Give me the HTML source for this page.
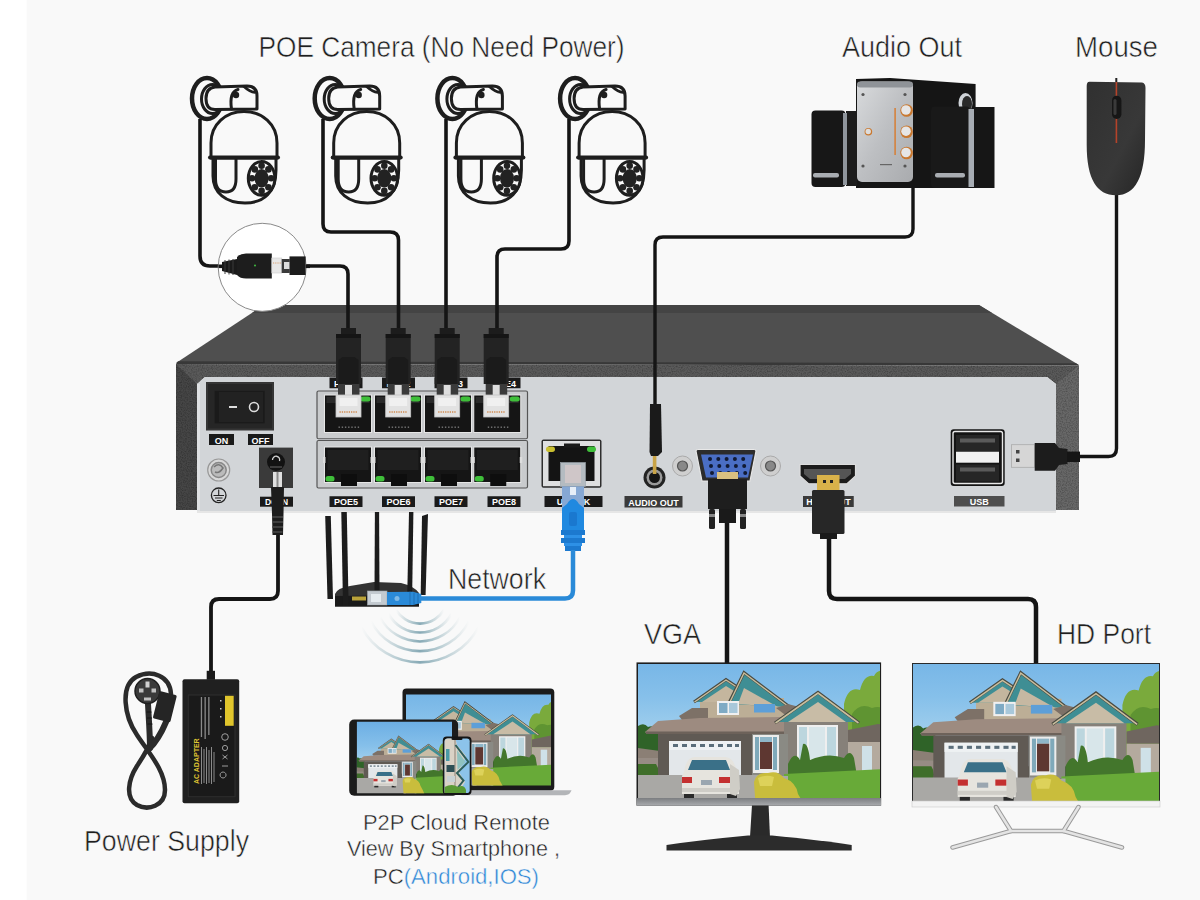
<!DOCTYPE html>
<html>
<head>
<meta charset="utf-8">
<style>
html,body{margin:0;padding:0;width:1200px;height:900px;overflow:hidden;background:#f9f9f9;}
svg{position:absolute;left:0;top:0;display:block;}
text{font-family:"Liberation Sans",sans-serif;}
</style>
</head>
<body>
<svg width="1200" height="900" viewBox="0 0 1200 900">
<defs>
  <linearGradient id="sky" x1="0" y1="0" x2="0" y2="1">
    <stop offset="0" stop-color="#6db0e6"/>
    <stop offset="1" stop-color="#b4dcf2"/>
  </linearGradient>
</defs>

<defs>
  <linearGradient id="skyg" x1="0" y1="0" x2="0" y2="1">
    <stop offset="0" stop-color="#62a8e2"/><stop offset="0.55" stop-color="#86c0ea"/><stop offset="1" stop-color="#b8dcef"/>
  </linearGradient>
  <linearGradient id="chin1" x1="0" y1="0" x2="0" y2="1">
    <stop offset="0" stop-color="#7b7d80"/><stop offset="1" stop-color="#a9abae"/>
  </linearGradient>
  <g id="scene">
    <rect x="-40" y="-50" width="320" height="150" fill="url(#skyg)"/>
    <!-- left trees -->
    <path d="M-40 60 L0 62 Q6 58 10 63 Q16 60 22 68 L22 100 L-40 100 Z" fill="#2f6328"/>
    <!-- right tree -->
    <path d="M206 40 Q210 22 222 26 Q226 10 236 12 Q240 4 250 8 L270 8 L270 100 L210 100 Q202 80 206 60 Z" fill="#7aaa3c"/>
    <path d="M214 50 Q222 38 234 44 Q246 40 250 52 L250 90 L214 90 Z" fill="#5f9432"/>
    <!-- right neighbour -->
    <path d="M210 66 L240 60 L270 62 L270 78 L210 78 Z" fill="#6f665f"/>
    <rect x="210" y="78" width="60" height="32" fill="#b4aa9e"/>
    <rect x="224" y="82" width="10" height="26" fill="#cfe1e8"/>
    <!-- left neighbour -->
    <path d="M-40 88 L0 84 L22 87 L22 94 L-40 96 Z" fill="#8b7f75"/>
    <rect x="-40" y="94" width="62" height="18" fill="#978c84"/>
    <path d="M-40 100 L18 100 Q22 106 20 112 L-40 112 Z" fill="#3f6e2a"/>
    <!-- upper wall & gables -->
    <rect x="62" y="34" width="84" height="24" fill="#bcae96"/>
    <path d="M41 52 L54 44 L70 44 L70 55 L44 56 Z" fill="#7d7167"/>
    <path d="M58 38 L88 17 L120 38 Z" fill="#3f8e94"/>
    <path d="M64 38 L88 22 L114 38 Z" fill="#c4b69e"/>
    <path d="M56 38 L88 15.5 L122 38" fill="none" stroke="#4a4a40" stroke-width="3"/><path d="M56.5 38 L88 16 L121.5 38" fill="none" stroke="#c9bf9f" stroke-width="1.4"/>
    <path d="M92 40 L106 10 L151 43 Z" fill="#3f8e94"/>
    <path d="M100 40 L106 24 L140 43 Z" fill="#c6b8a2"/>
    <path d="M90 41 L106 8.5 L153 44" fill="none" stroke="#4a4a40" stroke-width="3"/><path d="M90.5 41 L106 9 L152.5 44" fill="none" stroke="#c9bf9f" stroke-width="1.4"/>
    <rect x="79" y="37" width="22" height="14" fill="#f0f0f0"/>
    <rect x="81" y="39" width="8.5" height="10" fill="#7eaac4"/><rect x="91" y="39" width="8.5" height="10" fill="#a8c8da"/>
    <rect x="116" y="40" width="21" height="8.5" fill="#5d9fd8"/>
    <path d="M138 44 L150 40 L165 44 L150 53 Z" fill="#7d7167"/>
    <!-- lower roof -->
    <path d="M7 68 L20 57 L62 54 L146 53 L149 63 L147 70 L9 70 Z" fill="#9d8b80"/>
    <rect x="8" y="67.5" width="140" height="2.5" fill="#6d625a"/>
    <!-- right wing -->
    <rect x="146" y="55" width="64" height="45" fill="#868079"/>
    <path d="M139 58 L180 30 L219 58 Z" fill="#3f8e94"/>
    <path d="M150 58 L180 38 L208 58 Z" fill="#c8bca6"/>
    <path d="M137 59 L180 28.5 L221 59" fill="none" stroke="#4a4a40" stroke-width="3.2"/><path d="M137.5 59 L180 29 L220.5 59" fill="none" stroke="#c9bf9f" stroke-width="1.6"/>
    <rect x="159" y="61" width="41" height="36" fill="#efefef"/>
    <rect x="161" y="63" width="8" height="32" fill="#bcd6de"/>
    <rect x="171" y="63" width="16" height="32" fill="#d8e6ea"/>
    <rect x="189" y="63" width="9" height="32" fill="#bcd6de"/>
    <!-- lower walls -->
    <rect x="20" y="70" width="94" height="43" fill="#605a54"/>
    <rect x="114" y="70" width="36" height="42" fill="#8a8a84"/>
    <rect x="31" y="77" width="72" height="36" fill="#e3e7ea"/>
    <rect x="31" y="77" width="72" height="9" fill="#eef1f3"/>
    <g fill="#5a6d7a">
      <rect x="35" y="80" width="5" height="3"/><rect x="44" y="80" width="5" height="3"/><rect x="53" y="80" width="5" height="3"/><rect x="62" y="80" width="5" height="3"/>
      <rect x="71" y="80" width="5" height="3"/><rect x="80" y="80" width="5" height="3"/><rect x="89" y="80" width="5" height="3"/><rect x="97" y="80" width="4" height="3"/>
    </g>
    <rect x="115" y="71" width="26" height="38" fill="#ececec"/>
    <rect x="117" y="73" width="4" height="33" fill="#7fa9ba"/>
    <rect x="135" y="73" width="4" height="33" fill="#7fa9ba"/>
    <rect x="122" y="73" width="12" height="5" fill="#8fb6c8"/>
    <rect x="122" y="78" width="12" height="27" fill="#5e3731"/>
    <!-- driveway -->
    <path d="M-40 111 L124 111 L124 180 L-40 180 Z" fill="#a9a8a5"/>
    <!-- green bushes -->
    <path d="M150 100 Q156 86 162 96 L165 80 Q170 78 172 96 Q190 88 206 94 Q212 84 216 94 L220 118 L150 118 Z" fill="#43762c"/>
    <!-- lawn -->
    <path d="M146 110 L270 104 L270 180 L146 180 Z" fill="#68aa38"/>
    <rect x="118" y="112" width="32" height="68" fill="#a9a8a5"/>
    <!-- yellow bushes -->
    <path d="M116 118 Q118 108 130 109 Q140 106 146 114 Q158 118 160 130 Q166 140 170 150 Q176 165 178 180 L122 180 Q118 150 116 118 Z" fill="#c9bd3c"/>
    <path d="M120 114 Q128 110 136 113 L134 122 L122 122 Z" fill="#ddd25a"/>
    <!-- car -->
    <path d="M46 108 Q48 94 56 93 L88 93 Q96 94 99 108 L101 112 L101 130 L44 130 L44 112 Z" fill="#e6e4de"/>
    <path d="M54 96 L88 96 L92 106 L50 106 Z" fill="#3a7088"/>
    <rect x="44" y="113" width="10" height="6" fill="#c43030"/>
    <rect x="81" y="113" width="11" height="6" fill="#c43030"/>
    <rect x="63" y="116" width="11" height="5" fill="#9aa6b0"/>
    <rect x="44" y="124" width="57" height="4" fill="#cfcdc7"/>
    <rect x="46" y="130" width="10" height="4" fill="#2a2a2a"/><rect x="89" y="130" width="10" height="4" fill="#2a2a2a"/>
    <path d="M92 100 L101 106 L102 125 L98 132 L92 130 Z" fill="#cfcdc6"/>
  </g>
</defs>

<!-- background -->
<rect x="0" y="0" width="1200" height="900" fill="#f9f9f9"/>
<rect x="0" y="0" width="26.6" height="900" fill="#ffffff"/>

<!-- labels -->
<g fill="#1f1f1f" font-size="29.5" stroke="#f9f9f9" stroke-width="0.55">
  <text x="258.5" y="57" textLength="366" lengthAdjust="spacingAndGlyphs">POE Camera (No Need Power)</text>
  <text x="842" y="57" textLength="120" lengthAdjust="spacingAndGlyphs">Audio Out</text>
  <text x="1075" y="57" textLength="83" lengthAdjust="spacingAndGlyphs">Mouse</text>
  <text x="448" y="589" textLength="98" lengthAdjust="spacingAndGlyphs">Network</text>
  <text x="644" y="644" textLength="57" lengthAdjust="spacingAndGlyphs">VGA</text>
  <text x="1057" y="644" textLength="94" lengthAdjust="spacingAndGlyphs">HD Port</text>
  <text x="84" y="850.5" textLength="165" lengthAdjust="spacingAndGlyphs">Power Supply</text>
</g>
<g fill="#1f1f1f" font-size="22.5" stroke="#f9f9f9" stroke-width="0.45">
  <text x="363" y="829.5" textLength="187" lengthAdjust="spacingAndGlyphs">P2P Cloud Remote</text>
  <text x="347" y="856" textLength="213" lengthAdjust="spacingAndGlyphs">View By Smartphone ,</text>
  <text x="373" y="884" textLength="166" lengthAdjust="spacingAndGlyphs">PC<tspan fill="#2d86d6">(Android,IOS)</tspan></text>
</g>


<!-- CAMERAS -->
<g id="cam1" fill="none" stroke="#1e1e1e" stroke-width="3" stroke-linejoin="round" stroke-linecap="round">
  <ellipse cx="207" cy="98.5" rx="15" ry="20.5" stroke-width="4.5" fill="#f9f9f9"/>
  <ellipse cx="212.5" cy="99" rx="11" ry="14.5" stroke-width="3"/>
  <path d="M257 109 L257 96 Q257 86 247 86 L215 87 Q206 88 206 98.5 Q206 109.5 215 109.5 Z" fill="#f9f9f9"/>
  <circle cx="236" cy="95" r="3.2" fill="#1e1e1e" stroke="none"/>
  <path d="M231.5 109 Q229 92 238 89.5"/>
  <path d="M244 86.5 Q251 93 256 92"/>
  <path d="M213 158 L213 176 C213 193 226 203 245 203 C264 203 276 192 276 170 L276 158" fill="#f9f9f9"/>
  <path d="M215.5 158 L215.5 179 Q215.5 192 226 192 Q236 192 236 179 L236 158"/>
  <path d="M211 158 L211 143 C211 124 226 111.5 244 111.5 C262 111.5 277 124 277 143 L277 158 Z" fill="#f9f9f9"/>
  <line x1="210" y1="157.5" x2="278" y2="157.5" stroke-width="4"/>
  <ellipse cx="261.6" cy="178.3" rx="13.3" ry="16.9" fill="#f9f9f9" stroke-width="3"/>
  <g fill="#222" stroke="none"><ellipse cx="261.6" cy="178.3" rx="7" ry="9.3"/>
  <circle cx="261.60" cy="165.70" r="3.3"/>
  <circle cx="268.39" cy="169.39" r="3.3"/>
  <circle cx="271.20" cy="178.30" r="3.3"/>
  <circle cx="268.39" cy="187.21" r="3.3"/>
  <circle cx="261.60" cy="190.90" r="3.3"/>
  <circle cx="254.81" cy="187.21" r="3.3"/>
  <circle cx="252.00" cy="178.30" r="3.3"/>
  <circle cx="254.81" cy="169.39" r="3.3"/>
  </g>
</g>
<use href="#cam1" transform="translate(122.7,0)"/>
<use href="#cam1" transform="translate(245.4,0)"/>
<use href="#cam1" transform="translate(368.1,0)"/>

<defs>
  <filter id="grain" x="0" y="0" width="100%" height="100%">
    <feTurbulence type="fractalNoise" baseFrequency="0.8" numOctaves="2" seed="3" result="n"/>
    <feColorMatrix in="n" type="matrix" values="0 0 0 0 0  0 0 0 0 0  0 0 0 0 0  0 0 0 -2.2 1.35" result="a"/>
    <feComposite in="a" in2="SourceGraphic" operator="in"/>
  </filter>
</defs>
<!-- NVR BOX -->
<g id="nvr">
  <polygon points="264,305 979,305 1079,365 176,363" fill="#4f4f4f"/>
  <polygon points="264,305 979,305 992,313 252,313" fill="#444"/>
  <polygon points="178,361.3 1076,363.3 1079,365.5 176,364" fill="#383838"/>
  <polygon points="176,364 1079,365.5 1079,510 1056,510 1056,384 1047,377 205,377 197,384 197,510 176,510" fill="#5a5a5a"/>
  <polygon points="176,364 197,384 197,510 176,510" fill="#464646"/>
  <polygon points="1079,365.5 1056,384 1056,510 1079,510" fill="#686868"/>
  <polygon points="205,377 1047,377 1056,384 1056,511 197,511 197,384" fill="#d2d5d8"/>
  <rect x="197" y="384" width="3" height="127" fill="#dfe1e3"/>
  <rect x="197" y="511" width="859" height="2" fill="#e6e6e6"/>
  <g filter="url(#grain)" opacity="0.25">
    <polygon points="176,364 1079,365.5 1079,510 1056,510 1056,384 1047,377 205,377 197,384 197,510 176,510" fill="#000"/>
  </g>
</g>

<!-- CABLES -->
<g fill="none" stroke="#151515" stroke-width="3.6" stroke-linejoin="round">
  <path d="M200 119 L200 256 Q200 266 210 266 L222 266"/>
  <path d="M305 266 L340 266 Q348 266 348 274 L348 330"/>
  <path d="M323 119 L323 224 Q323 232 331 232 L390 232 Q398.5 232 398.5 240 L398.5 330"/>
  <path d="M446 119 L446 330"/>
  <path d="M569 119 L569 241 Q569 249 561 249 L505 249 Q497 249 497 257 L497 330"/>
  <path d="M913 188 L913 229 Q913 237 905 237 L663 237 Q655 237 655 245 L655 404" stroke-width="3.4"/>
  <path d="M1116.5 195 L1116.5 448.5 Q1116.5 456.5 1108.5 456.5 L1078 456.5" stroke-width="3.4"/>
  <path d="M727 520 L727 663" stroke-width="4.5"/>
  <path d="M829 533 L829 591 Q829 599 837 599 L1028 599 Q1036 599 1036 607 L1036 663" stroke-width="4.5"/>
  <path d="M278 530 L278 591 Q278 599 270 599 L219 599 Q211 599 211 607 L211 674" stroke-width="3.8"/>
</g>


<g id="panel">
  <rect x="206" y="382" width="68" height="48.5" fill="#353535"/>
  <rect x="208" y="384" width="64" height="44.5" fill="#262626"/>
  <rect x="214.7" y="390.8" width="50" height="32.5" fill="#1a1a1a"/>
  <rect x="219" y="392" width="44" height="30" fill="#222"/>
  <rect x="229" y="406" width="8" height="2" fill="#ddd"/>
  <circle cx="254" cy="407" r="4.5" fill="none" stroke="#ddd" stroke-width="1.6"/>
  <rect x="209" y="434" width="25" height="11" fill="#1a1a1a"/>
  <rect x="248" y="434" width="25" height="11" fill="#1a1a1a"/>
  <g fill="#fff" font-size="9" font-weight="bold" text-anchor="middle">
    <text x="221.5" y="443.5">ON</text><text x="260.5" y="443.5">OFF</text>
  </g>
  <circle cx="218.7" cy="470" r="11" fill="#d8d8d8" stroke="#999" stroke-width="1.2"/>
  <circle cx="218.7" cy="470" r="7.5" fill="#bbb" stroke="#888" stroke-width="1.5"/>
  <path d="M214 467 Q219 462 223 468 Q219 474 215 472" fill="none" stroke="#777" stroke-width="1.5"/>
  <circle cx="218.7" cy="495.3" r="7.3" fill="none" stroke="#222" stroke-width="1.3"/>
  <path d="M218.7 489.5 L218.7 495 M213.5 495.5 L224 495.5 M215 498 L222.5 498 M216.8 500.5 L220.8 500.5" stroke="#222" stroke-width="1.1" fill="none"/>
  <rect x="259" y="447.6" width="34" height="40.4" fill="#3a3a3a"/>
  <circle cx="276" cy="462" r="9" fill="#121212"/>
  <path d="M272.5 460 A3.6 3.6 0 1 1 279.5 461" fill="none" stroke="#d0d0d0" stroke-width="1.3"/>
  <rect x="270" y="466.5" width="12" height="1" fill="#666"/>
  <rect x="260" y="496.7" width="33" height="10" fill="#1a1a1a"/>
  <text x="276.5" y="505.3" fill="#fff" font-size="8.5" font-weight="bold" text-anchor="middle">DC IN</text>

<rect x="317" y="391" width="210.5" height="47.75" rx="1.5" fill="#c9cbcd" stroke="#555" stroke-width="1.2"/>
<rect x="317" y="440.5" width="210.5" height="47.5" rx="1.5" fill="#c9cbcd" stroke="#555" stroke-width="1.2"/>
<rect x="324.5" y="395" width="47" height="37.5" fill="#151515" stroke="#e6e6e6" stroke-width="1"/>
<rect x="326.5" y="397" width="43" height="6" fill="#2a2a2a"/>
<rect x="360.5" y="396.5" width="10" height="5" rx="2.5" fill="#3fbf3a"/>
<rect x="338.5" y="426.5" width="1.4" height="1.4" fill="#777"/>
<rect x="341.7" y="426.5" width="1.4" height="1.4" fill="#777"/>
<rect x="344.9" y="426.5" width="1.4" height="1.4" fill="#777"/>
<rect x="348.1" y="426.5" width="1.4" height="1.4" fill="#777"/>
<rect x="351.3" y="426.5" width="1.4" height="1.4" fill="#777"/>
<rect x="354.5" y="426.5" width="1.4" height="1.4" fill="#777"/>
<rect x="357.7" y="426.5" width="1.4" height="1.4" fill="#777"/>
<rect x="324.5" y="447" width="47" height="35.5" fill="#151515" stroke="#e6e6e6" stroke-width="1"/>
<rect x="327.5" y="450" width="41" height="20" fill="#1f1f1f"/>
<rect x="325.5" y="476" width="9" height="5.5" rx="2.5" fill="#3fbf3a"/>
<rect x="341.0" y="474" width="16" height="12" fill="#0e0e0e"/>
<rect x="323.0" y="457" width="2.5" height="6" fill="#ddd"/>
<rect x="370.5" y="457" width="2.5" height="6" fill="#ddd"/>
<rect x="329.5" y="377.5" width="33" height="10.75" fill="#1a1a1a"/>
<text x="346.0" y="386.5" fill="#fff" font-size="9" font-weight="bold" text-anchor="middle">POE1</text>
<rect x="329.5" y="496.25" width="33" height="10.75" fill="#1a1a1a"/>
<text x="346.0" y="505.3" fill="#fff" font-size="9" font-weight="bold" text-anchor="middle">POE5</text>
<rect x="374.5" y="395" width="47" height="37.5" fill="#151515" stroke="#e6e6e6" stroke-width="1"/>
<rect x="376.5" y="397" width="43" height="6" fill="#2a2a2a"/>
<rect x="410.5" y="396.5" width="10" height="5" rx="2.5" fill="#3fbf3a"/>
<rect x="388.5" y="426.5" width="1.4" height="1.4" fill="#777"/>
<rect x="391.7" y="426.5" width="1.4" height="1.4" fill="#777"/>
<rect x="394.9" y="426.5" width="1.4" height="1.4" fill="#777"/>
<rect x="398.1" y="426.5" width="1.4" height="1.4" fill="#777"/>
<rect x="401.3" y="426.5" width="1.4" height="1.4" fill="#777"/>
<rect x="404.5" y="426.5" width="1.4" height="1.4" fill="#777"/>
<rect x="407.7" y="426.5" width="1.4" height="1.4" fill="#777"/>
<rect x="374.5" y="447" width="47" height="35.5" fill="#151515" stroke="#e6e6e6" stroke-width="1"/>
<rect x="377.5" y="450" width="41" height="20" fill="#1f1f1f"/>
<rect x="375.5" y="476" width="9" height="5.5" rx="2.5" fill="#3fbf3a"/>
<rect x="391.0" y="474" width="16" height="12" fill="#0e0e0e"/>
<rect x="373.0" y="457" width="2.5" height="6" fill="#ddd"/>
<rect x="420.5" y="457" width="2.5" height="6" fill="#ddd"/>
<rect x="382" y="377.5" width="33" height="10.75" fill="#1a1a1a"/>
<text x="398.5" y="386.5" fill="#fff" font-size="9" font-weight="bold" text-anchor="middle">POE2</text>
<rect x="382" y="496.25" width="33" height="10.75" fill="#1a1a1a"/>
<text x="398.5" y="505.3" fill="#fff" font-size="9" font-weight="bold" text-anchor="middle">POE6</text>
<rect x="424.5" y="395" width="47" height="37.5" fill="#151515" stroke="#e6e6e6" stroke-width="1"/>
<rect x="426.5" y="397" width="43" height="6" fill="#2a2a2a"/>
<rect x="460.5" y="396.5" width="10" height="5" rx="2.5" fill="#3fbf3a"/>
<rect x="438.5" y="426.5" width="1.4" height="1.4" fill="#777"/>
<rect x="441.7" y="426.5" width="1.4" height="1.4" fill="#777"/>
<rect x="444.9" y="426.5" width="1.4" height="1.4" fill="#777"/>
<rect x="448.1" y="426.5" width="1.4" height="1.4" fill="#777"/>
<rect x="451.3" y="426.5" width="1.4" height="1.4" fill="#777"/>
<rect x="454.5" y="426.5" width="1.4" height="1.4" fill="#777"/>
<rect x="457.7" y="426.5" width="1.4" height="1.4" fill="#777"/>
<rect x="424.5" y="447" width="47" height="35.5" fill="#151515" stroke="#e6e6e6" stroke-width="1"/>
<rect x="427.5" y="450" width="41" height="20" fill="#1f1f1f"/>
<rect x="425.5" y="476" width="9" height="5.5" rx="2.5" fill="#3fbf3a"/>
<rect x="441.0" y="474" width="16" height="12" fill="#0e0e0e"/>
<rect x="423.0" y="457" width="2.5" height="6" fill="#ddd"/>
<rect x="470.5" y="457" width="2.5" height="6" fill="#ddd"/>
<rect x="434.5" y="377.5" width="33" height="10.75" fill="#1a1a1a"/>
<text x="451.0" y="386.5" fill="#fff" font-size="9" font-weight="bold" text-anchor="middle">POE3</text>
<rect x="434.5" y="496.25" width="33" height="10.75" fill="#1a1a1a"/>
<text x="451.0" y="505.3" fill="#fff" font-size="9" font-weight="bold" text-anchor="middle">POE7</text>
<rect x="473.75" y="395" width="47" height="37.5" fill="#151515" stroke="#e6e6e6" stroke-width="1"/>
<rect x="475.75" y="397" width="43" height="6" fill="#2a2a2a"/>
<rect x="509.75" y="396.5" width="10" height="5" rx="2.5" fill="#3fbf3a"/>
<rect x="487.75" y="426.5" width="1.4" height="1.4" fill="#777"/>
<rect x="490.95" y="426.5" width="1.4" height="1.4" fill="#777"/>
<rect x="494.15" y="426.5" width="1.4" height="1.4" fill="#777"/>
<rect x="497.35" y="426.5" width="1.4" height="1.4" fill="#777"/>
<rect x="500.55" y="426.5" width="1.4" height="1.4" fill="#777"/>
<rect x="503.75" y="426.5" width="1.4" height="1.4" fill="#777"/>
<rect x="506.95" y="426.5" width="1.4" height="1.4" fill="#777"/>
<rect x="473.75" y="447" width="47" height="35.5" fill="#151515" stroke="#e6e6e6" stroke-width="1"/>
<rect x="476.75" y="450" width="41" height="20" fill="#1f1f1f"/>
<rect x="474.75" y="476" width="9" height="5.5" rx="2.5" fill="#3fbf3a"/>
<rect x="490.25" y="474" width="16" height="12" fill="#0e0e0e"/>
<rect x="472.25" y="457" width="2.5" height="6" fill="#ddd"/>
<rect x="519.75" y="457" width="2.5" height="6" fill="#ddd"/>
<rect x="487.5" y="377.5" width="33" height="10.75" fill="#1a1a1a"/>
<text x="504.0" y="386.5" fill="#fff" font-size="9" font-weight="bold" text-anchor="middle">POE4</text>
<rect x="487.5" y="496.25" width="33" height="10.75" fill="#1a1a1a"/>
<text x="504.0" y="505.3" fill="#fff" font-size="9" font-weight="bold" text-anchor="middle">POE8</text>

  <rect x="541.5" y="439.4" width="60" height="48.4" rx="2" fill="#2e2e2e"/>
  <rect x="543" y="441" width="57" height="45.2" fill="#dedfe0"/>
  <rect x="548.5" y="446" width="46" height="35" fill="#141414"/>
  <rect x="546" y="446.5" width="9" height="5.5" rx="2.7" fill="#c9bf30"/>
  <rect x="587" y="446.5" width="9" height="5.5" rx="2.7" fill="#3fbf3a"/>
  <rect x="564" y="443.5" width="16" height="4" fill="#1a1a1a"/>
  <rect x="544.5" y="496" width="58" height="11" fill="#1a1a1a"/>
  <text x="573.5" y="505.3" fill="#fff" font-size="9" font-weight="bold" text-anchor="middle">UPLINK</text>


  <circle cx="654.5" cy="477.5" r="11" fill="#232323"/>
  <circle cx="654.5" cy="477.5" r="8" fill="#9a9a9a"/>
  <circle cx="654.5" cy="477.5" r="5.5" fill="#151515"/>
  <rect x="624.5" y="496" width="58" height="11.5" fill="#3a3a3a"/>
  <text x="653.5" y="505.5" fill="#fff" font-size="9" font-weight="bold" text-anchor="middle">AUDIO OUT</text>
  <rect x="652.8" y="452" width="3.6" height="22" fill="#c9a447"/>
  <path d="M650 404 L661 404 L662 452 L658 456 L651 456 L649.5 452 Z" fill="#1a1a1a"/>


  <circle cx="682.5" cy="466" r="10" fill="#cfcfcf" stroke="#aaa" stroke-width="1"/>
  <circle cx="682.5" cy="466" r="5" fill="#888" stroke="#555" stroke-width="1.2"/>
  <circle cx="770.5" cy="466" r="10" fill="#cfcfcf" stroke="#aaa" stroke-width="1"/>
  <circle cx="770.5" cy="466" r="5" fill="#888" stroke="#555" stroke-width="1.2"/>
  <path d="M696 451 Q696 449.5 698 449.5 L754 449.5 Q756 449.5 756 451 L750 481 L702 481 Z" fill="#2c2c2c" stroke="#e8e8e8" stroke-width="1.2"/>
  <path d="M701 454.5 L753 454.5 L748 477.5 L706 477.5 Z" fill="#4a6ec4"/>

<circle cx="710.0" cy="459" r="2" fill="#111a33"/>
<circle cx="718.3" cy="459" r="2" fill="#111a33"/>
<circle cx="726.6" cy="459" r="2" fill="#111a33"/>
<circle cx="734.9" cy="459" r="2" fill="#111a33"/>
<circle cx="743.2" cy="459" r="2" fill="#111a33"/>
<circle cx="711.0" cy="466" r="2" fill="#111a33"/>
<circle cx="719.3" cy="466" r="2" fill="#111a33"/>
<circle cx="727.6" cy="466" r="2" fill="#111a33"/>
<circle cx="735.9" cy="466" r="2" fill="#111a33"/>
<circle cx="744.2" cy="466" r="2" fill="#111a33"/>
<circle cx="712.0" cy="473" r="2" fill="#111a33"/>
<circle cx="720.3" cy="473" r="2" fill="#111a33"/>
<circle cx="728.6" cy="473" r="2" fill="#111a33"/>
<circle cx="736.9" cy="473" r="2" fill="#111a33"/>
<circle cx="745.2" cy="473" r="2" fill="#111a33"/>

  <rect x="717" y="472" width="21" height="7" fill="#d9c080"/>
  <path d="M708 479 L747 479 L747 509 L708 509 Z" fill="#1e1e1e"/>
  <rect x="709" y="509" width="6" height="20" rx="1.5" fill="#222"/>
  <rect x="740" y="509" width="6" height="20" rx="1.5" fill="#222"/>
  <rect x="709" y="514" width="6" height="3" fill="#888"/>
  <rect x="740" y="514" width="6" height="3" fill="#888"/>
  <rect x="719" y="509" width="17" height="14" fill="#1a1a1a"/>


  <path d="M800 464.5 L855.5 464.5 L855.5 476 L847 483.75 L808.5 483.75 L800 476 Z" fill="#1c1c1c" stroke="#ddd" stroke-width="1.2"/>
  <path d="M804 469 L851 469 L851 474 L845 479 L810 479 L804 474 Z" fill="#555"/>
  <rect x="803" y="496" width="50.75" height="11" fill="#3a3a3a"/>
  <text x="828.4" y="505.3" fill="#fff" font-size="9" font-weight="bold" text-anchor="middle">HDMI OUT</text>
  <path d="M817 475 L839.5 475 L839.5 490 L817 490 Z" fill="#d9b24a"/>
  <rect x="823" y="480" width="3" height="3" fill="#222"/><rect x="830" y="480" width="3" height="3" fill="#222"/>
  <rect x="812" y="490" width="32.5" height="44" rx="1.5" fill="#272727"/>
  <rect x="820" y="533" width="17" height="6" fill="#1a1a1a"/>


  <rect x="950.7" y="429.2" width="54" height="56.8" rx="3" fill="#141414"/>
  <rect x="953" y="431.5" width="49.5" height="52" rx="2" fill="none" stroke="#e8e8e8" stroke-width="1.4"/>
  <rect x="956" y="435" width="43" height="16" fill="#262626"/>
  <rect x="960" y="438.5" width="35" height="4" fill="#5a5a5a"/>
  <rect x="956" y="451.7" width="43" height="11" fill="#f2f2f2"/>
  <rect x="956" y="464.5" width="43" height="17" fill="#262626"/>
  <rect x="960" y="467.5" width="35" height="4" fill="#5a5a5a"/>
  <rect x="954" y="496" width="50.5" height="10.5" fill="#4e4e4e"/>
  <text x="979.2" y="505" fill="#fff" font-size="9" font-weight="bold" text-anchor="middle">USB</text>
  <rect x="1011.5" y="444.7" width="23.2" height="22.6" fill="#d6d6d6" stroke="#aaa" stroke-width="0.8"/>
  <rect x="1016" y="450" width="3.5" height="3.5" fill="#444"/><rect x="1016" y="458.5" width="3.5" height="3.5" fill="#444"/>
  <path d="M1034.7 443 L1055 443 L1059 448 L1067.5 449 L1067.5 464 L1059 465 L1055 470.7 L1034.7 470.7 Z" fill="#1c1c1c"/>
  <rect x="1067" y="451.6" width="13" height="10.4" fill="#151515"/>
</g>

<g id="plugs">
<rect x="341.0" y="328" width="15" height="7" fill="#1c1c1c"/>
<rect x="336.0" y="334" width="25" height="50" fill="#232323"/>
<rect x="336.0" y="334" width="25" height="4" fill="#151515"/>
<path d="M338.5 360 L342.5 357 L354.5 357 L358.5 360 L358.5 384 L338.5 384 Z" fill="#1b1b1b"/>
<rect x="338.0" y="384" width="21.5" height="11" fill="#3a3a3a"/>
<rect x="345.0" y="385" width="7" height="10" fill="#dedede"/>
<rect x="336.0" y="395" width="25" height="22" fill="#e2e2e2" stroke="#c4c4c4" stroke-width="0.8"/>
<rect x="339.5" y="398" width="18" height="8" fill="#f0f0f0"/>
<path d="M339.5 412 h18" stroke="#d08a50" stroke-width="1.5" stroke-dasharray="1.3 1"/>
<rect x="390.7" y="328" width="15" height="7" fill="#1c1c1c"/>
<rect x="385.7" y="334" width="25" height="50" fill="#232323"/>
<rect x="385.7" y="334" width="25" height="4" fill="#151515"/>
<path d="M388.2 360 L392.2 357 L404.2 357 L408.2 360 L408.2 384 L388.2 384 Z" fill="#1b1b1b"/>
<rect x="387.7" y="384" width="21.5" height="11" fill="#3a3a3a"/>
<rect x="394.7" y="385" width="7" height="10" fill="#dedede"/>
<rect x="385.7" y="395" width="25" height="22" fill="#e2e2e2" stroke="#c4c4c4" stroke-width="0.8"/>
<rect x="389.2" y="398" width="18" height="8" fill="#f0f0f0"/>
<path d="M389.2 412 h18" stroke="#d08a50" stroke-width="1.5" stroke-dasharray="1.3 1"/>
<rect x="439.7" y="328" width="15" height="7" fill="#1c1c1c"/>
<rect x="434.7" y="334" width="25" height="50" fill="#232323"/>
<rect x="434.7" y="334" width="25" height="4" fill="#151515"/>
<path d="M437.2 360 L441.2 357 L453.2 357 L457.2 360 L457.2 384 L437.2 384 Z" fill="#1b1b1b"/>
<rect x="436.7" y="384" width="21.5" height="11" fill="#3a3a3a"/>
<rect x="443.7" y="385" width="7" height="10" fill="#dedede"/>
<rect x="434.7" y="395" width="25" height="22" fill="#e2e2e2" stroke="#c4c4c4" stroke-width="0.8"/>
<rect x="438.2" y="398" width="18" height="8" fill="#f0f0f0"/>
<path d="M438.2 412 h18" stroke="#d08a50" stroke-width="1.5" stroke-dasharray="1.3 1"/>
<rect x="488.7" y="328" width="15" height="7" fill="#1c1c1c"/>
<rect x="483.7" y="334" width="25" height="50" fill="#232323"/>
<rect x="483.7" y="334" width="25" height="4" fill="#151515"/>
<path d="M486.2 360 L490.2 357 L502.2 357 L506.2 360 L506.2 384 L486.2 384 Z" fill="#1b1b1b"/>
<rect x="485.7" y="384" width="21.5" height="11" fill="#3a3a3a"/>
<rect x="492.7" y="385" width="7" height="10" fill="#dedede"/>
<rect x="483.7" y="395" width="25" height="22" fill="#e2e2e2" stroke="#c4c4c4" stroke-width="0.8"/>
<rect x="487.2" y="398" width="18" height="8" fill="#f0f0f0"/>
<path d="M487.2 412 h18" stroke="#d08a50" stroke-width="1.5" stroke-dasharray="1.3 1"/>
</g>

<g id="dcplug">
  <rect x="273" y="472" width="9" height="16" fill="#e0e0e0"/>
  <rect x="276.5" y="472" width="2" height="16" fill="#8a8a8a"/>
  <path d="M271 487 L284 487 L283.5 514 L283 535 L272.5 535 L272 514 Z" fill="#1c1c1c"/>
  <path d="M272 517 h11 M272 522 h11 M272 527 h11 M272.5 532 h10" stroke="#4a4a4a" stroke-width="1.4"/>
</g>
<g id="blueplug">
  <rect x="560.5" y="462.5" width="25" height="24" fill="#b4bbc1" stroke="#9aa3aa" stroke-width="0.6"/>
  <rect x="565" y="465" width="16" height="18" fill="#cfc6c8"/>
  <rect x="562" y="486.4" width="22" height="22" fill="#86a8d4"/>
  <rect x="570" y="487" width="6" height="8" fill="#e6eef8"/>
  <path d="M562 508 L567 504 Q573 494 579 504 L584 508 L584 530 L562 530 Z" fill="#2089e0"/>
  <rect x="569" y="512" width="8" height="14" rx="2" fill="#1a78cf"/>
  <rect x="561" y="530" width="24" height="5" fill="#1c79cf"/>
  <rect x="564" y="535" width="18" height="3" fill="#2d90e6"/>
  <rect x="561" y="538" width="24" height="5" fill="#1c79cf"/>
  <rect x="564" y="543" width="18" height="3" fill="#2d90e6"/>
  <rect x="565" y="546" width="16" height="5" fill="#1c79cf"/>
</g>
<!-- connector circle -->
<g id="conn">
  <circle cx="262.2" cy="267.3" r="44" fill="#ffffff" stroke="#8a8a8a" stroke-width="1"/>
  <path d="M218.5 266.3 L224 266.3" stroke="#151515" stroke-width="3.6"/>
  <path d="M222 262 L237 259 L237 275 L222 271 Z" fill="#1a1a1a"/>
  <path d="M225 260 v14 M229 259.5 v15 M233 259 v16" stroke="#3a3a3a" stroke-width="1"/>
  <path d="M237 257 Q240 253.5 246 253.5 L271.8 253.5 L271.8 278.6 L246 278.6 Q240 278.6 237 275 Z" fill="#1d1d1d"/>
  <circle cx="255" cy="265.5" r="0.9" fill="#4c4"/>
  <rect x="271.8" y="258" width="10" height="15" fill="#e8e8e8" stroke="#ccc" stroke-width="0.6"/>
  <path d="M273 263 h8" stroke="#d9a070" stroke-width="1" stroke-dasharray="1 0.8"/>
  <rect x="281.7" y="259" width="8" height="14" fill="#3a3a3a"/>
  <rect x="284" y="262" width="6" height="7" fill="#ddd"/>
  <rect x="289.5" y="256.4" width="16.1" height="18.6" fill="#1c1c1c"/>
  <path d="M305.6 266.3 L310 266.3" stroke="#151515" stroke-width="3.6"/>
</g>


<defs>
  <linearGradient id="silver" x1="0" y1="0" x2="1" y2="1">
    <stop offset="0" stop-color="#d9dbdd"/><stop offset="0.5" stop-color="#bdbfc2"/><stop offset="1" stop-color="#a9abae"/>
  </linearGradient>
  <linearGradient id="mouseg" x1="0" y1="0" x2="1" y2="1">
    <stop offset="0" stop-color="#303030"/><stop offset="0.6" stop-color="#383838"/><stop offset="1" stop-color="#252525"/>
  </linearGradient>
  <linearGradient id="wifig" x1="0" y1="0" x2="1" y2="0">
    <stop offset="0" stop-color="#7fa3ae" stop-opacity="0"/>
    <stop offset="0.3" stop-color="#7aa2ae" stop-opacity="0.5"/>
    <stop offset="0.5" stop-color="#6a95a4" stop-opacity="0.8"/>
    <stop offset="0.7" stop-color="#7aa2ae" stop-opacity="0.5"/>
    <stop offset="1" stop-color="#7fa3ae" stop-opacity="0"/>
  </linearGradient>
</defs>
<!-- SPEAKERS -->
<g id="speakers">
  <path d="M856 79 L890 78 L975.6 84 L975.6 188 L856 188 Z" fill="#151515"/>
  <rect x="857" y="81.4" width="56" height="100.6" rx="5" fill="url(#silver)"/>
  <rect x="857" y="81.4" width="56" height="6" rx="3" fill="#8f9398"/>
  <circle cx="863" cy="94.5" r="1.6" fill="#555"/><circle cx="905" cy="94.5" r="1.6" fill="#555"/>
  <circle cx="863" cy="166" r="1.6" fill="#555"/><circle cx="905" cy="166" r="1.6" fill="#555"/>
  <rect x="894.3" y="108" width="1.6" height="47" fill="#d4823e"/>
  <circle cx="906.6" cy="110.5" r="6.3" fill="#c9782f"/><circle cx="906" cy="110" r="4.8" fill="#e6e6e6"/>
  <circle cx="906.6" cy="131.7" r="6.3" fill="#c9782f"/><circle cx="906" cy="131.2" r="4.8" fill="#e6e6e6"/>
  <circle cx="906.6" cy="153" r="6.3" fill="#c9782f"/><circle cx="906" cy="152.5" r="4.8" fill="#e6e6e6"/>
  <circle cx="868.4" cy="131.7" r="3.8" fill="#c9782f"/><circle cx="868.2" cy="131.5" r="2.7" fill="#ddd"/>
  <rect x="880" y="164" width="12" height="1.2" fill="#666"/>
  <ellipse cx="965.5" cy="103" rx="7" ry="10" fill="#cfd3d8"/>
  <ellipse cx="967" cy="104" rx="5" ry="8" fill="#2a2a2a"/>
  <rect x="846" y="111" width="11" height="75" fill="#1c1c1c"/>
  <rect x="811.5" y="110.6" width="34" height="76.4" rx="4" fill="#171717"/>
  <rect x="843" y="113" width="4" height="72" fill="#8f959c"/>
  <rect x="813" y="173" width="26" height="4.5" rx="2" fill="#a9adb2"/>
  <rect x="974" y="107" width="20.5" height="81" fill="#161616"/>
  <rect x="931" y="106.6" width="39" height="81.4" rx="4" fill="#191919"/>
  <rect x="968.5" y="109" width="5.5" height="78" fill="#a7adb4"/>
  <rect x="935" y="173" width="30" height="4.5" rx="2" fill="#a9adb2"/>
</g>
<!-- MOUSE -->
<g id="mouse">
  <path d="M1089.5 81.7 L1142 82.5 Q1145.5 83 1145.5 88 L1145 140 Q1145 195.3 1116 195.3 Q1086.7 195.3 1086.7 145 L1086.7 86 Q1086.7 81.7 1089.5 81.7 Z" fill="url(#mouseg)"/>
  <rect x="1115.6" y="82" width="1.6" height="61" fill="#b5432a"/>
  <rect x="1112" y="95.7" width="9.4" height="23.3" rx="4.7" fill="#161616"/>
  <rect x="1113.5" y="99" width="3" height="16" rx="1.5" fill="#3a3a3a"/>
  <rect x="1115.3" y="78" width="2" height="4" fill="#222"/>
</g>
<!-- ROUTER -->
<g id="router">
  <path d="M335 594 Q337 588 350 586 L374 582 L401 583 Q414 586 419 593 L419 606.4 L335 606.4 Z" fill="#333"/>
  <path d="M335 596 L419 595 L419 606.4 L335 606.4 Z" fill="#1a1a1a"/>
  <rect x="352" y="596.5" width="14" height="4" fill="#b9a23a"/>
  <path d="M325.2 516 L330.8 516 L333 599 L327.5 599 Z" fill="#1c1c1c"/>
  <path d="M341.3 512 L346.8 512 L348.6 606 L343 606 Z" fill="#1c1c1c"/>
  <path d="M374.9 512 L379.1 512 L379.5 590.5 L374.5 590.5 Z" fill="#1c1c1c"/>
  <path d="M409 512 L413.4 512 L412 606 L407 606 Z" fill="#1c1c1c"/>
  <path d="M422 516 L428 514 L425.6 595 L420.7 595 Z" fill="#1c1c1c"/>
  <rect x="367.5" y="591" width="19.5" height="14" fill="#c3cad0" stroke="#a0a8ae" stroke-width="0.6"/>
  <rect x="371" y="594" width="10" height="8" fill="#e6ecf0"/>
  <path d="M387 592 L413 591.7 L421.3 594 L421.3 603 L413 605 L387 605 Z" fill="#2a8ad8"/>
  <path d="M410 591.7 v13.3 M414 592.5 v12 M418 593 v11" stroke="#1f6fb3" stroke-width="1"/>
  <circle cx="397" cy="598.5" r="2.5" fill="#7fb9e6"/>
</g>
<path d="M421 598.5 L565 598.5 Q573 598.5 573 590.5 L573 550" fill="none" stroke="#2a8ad8" stroke-width="4.5"/>
<!-- WIFI -->
<g fill="none" stroke="url(#wifig)" stroke-width="2.6">
  <path d="M396 610 A28 28 0 0 0 444 610"/>
  <path d="M388.5 614 A36 36 0 0 0 451.5 614"/>
  <path d="M380 617.5 A45.4 45.4 0 0 0 460 617.5"/>
  <path d="M371 621.5 A55.3 55.3 0 0 0 469 621.5"/>
  <path d="M361.5 627.4 A66.4 66.4 0 0 0 478.5 627.4"/>
</g>


<!-- MONITOR 1 -->
<g id="mon1">
  <rect x="636.5" y="662.4" width="244.6" height="143.2" fill="#1e1e1e"/>
  <svg x="638" y="664" width="242" height="134" viewBox="0 0 242 134"><use href="#scene"/></svg>
  <rect x="636.5" y="798" width="244.6" height="7.6" fill="url(#chin1)"/>
  <path d="M752 805.6 L768.6 805.6 L770 837 L750 837 Z" fill="#2a2a2a"/>
  <path d="M666.5 845 Q700 840 748 835.5 L772 835.5 Q820 840 851.7 845 L851.7 850.6 L666.5 850.6 Z" fill="#2c2c2c"/>
</g>
<!-- MONITOR 2 -->
<g id="mon2">
  <rect x="912" y="663" width="248" height="144" fill="#2a2a2a"/>
  <svg x="913" y="664" width="246" height="137" viewBox="0 0 242 134" preserveAspectRatio="none"><use href="#scene"/></svg>
  <rect x="912" y="801" width="248" height="6" fill="#f3f3f3" stroke="#c8c8c8" stroke-width="0.6"/>
  <g fill="none" stroke-linecap="round">
    <path d="M996 807 L1011 831 L1063.5 831 L1078.5 807" stroke="#9a9a9a" stroke-width="4.5"/>
    <path d="M1011 831 L952.5 847.5 M1063.5 831 L1122 847.5" stroke="#9a9a9a" stroke-width="4.5"/>
    <path d="M996 807 L1011 831 L1063.5 831 L1078.5 807" stroke="#e4e4e4" stroke-width="2.5"/>
    <path d="M1011 831 L952.5 847.5 M1063.5 831 L1122 847.5" stroke="#e4e4e4" stroke-width="2.5"/>
  </g>
</g>
<!-- LAPTOP -->
<g id="laptop">
  <rect x="402.5" y="688.5" width="151.8" height="102.3" rx="4" fill="#1b1b1b"/>
  <svg x="406" y="694.6" width="145" height="91" viewBox="14 -4 226 142" preserveAspectRatio="xMidYMid slice"><use href="#scene"/></svg>
  <path d="M456 790.3 L571.5 790.3 Q570 795.2 565 795.2 L462 795.2 Q457 795 456 790.3 Z" fill="#b3b5b8"/>
</g>
<!-- TABLET -->
<g id="tablet">
  <rect x="349.2" y="719.5" width="108.9" height="76.3" rx="5" fill="#1b1b1b"/>
  <svg x="356.9" y="721.8" width="95.1" height="71.5" viewBox="3 -27.5 235 176" preserveAspectRatio="none"><use href="#scene"/></svg>
</g>
<!-- PHONE -->
<g id="phone">
  <rect x="442.8" y="736.6" width="28.7" height="58.3" rx="4" fill="#151515"/>
  <rect x="444.6" y="738.4" width="25.1" height="54.7" rx="2.8" fill="#8cc3ea"/>
  <path d="M444.6 742 Q444.6 738.4 448 738.4 L455.5 738.4 L457 745 L466 756 L459 772 L465 782 L458 793.1 L444.6 793.1 Z" fill="#d9d2c6"/>
  <path d="M455 738.4 L455 793" stroke="#9a8f84" stroke-width="1.2"/>
  <path d="M455.5 745 L468.4 762 L457 773 L463.5 780.5 L456 790" fill="none" stroke="#2e5e5a" stroke-width="2"/>
  <path d="M457 750 L465.5 762 L457.5 770 Z" fill="#8fc2c0"/>
  <rect x="446" y="749" width="3.5" height="12" fill="#4a9aa6"/>
  <rect x="446.5" y="765" width="8" height="7" fill="#2d4f55"/>
  <rect x="447" y="776" width="8" height="6" fill="#c9d2d4"/>
  <path d="M444.6 787 Q452 783 458 787 Q464 784 466 790 L466 793.1 L444.6 793.1 Z" fill="#5a9a34"/>
  <rect x="451.5" y="737.5" width="11" height="2.6" rx="1.3" fill="#151515"/>
</g>
<!-- POWER ADAPTER -->
<g id="adapter">
  <rect x="206.7" y="670.8" width="8.3" height="9" fill="#1a1a1a"/>
  <rect x="182.5" y="679.2" width="56.7" height="124.1" rx="2" fill="#202020"/>
  <rect x="188.3" y="695" width="46.7" height="101.7" fill="#1a1a1a" stroke="#2e2e2e" stroke-width="1"/>
  <rect x="225" y="695.8" width="8.7" height="30" fill="#e0c52c"/>
  <g fill="#8a8a8a">
    <rect x="200.8" y="697" width="1.3" height="40"/><rect x="204.5" y="697" width="1.3" height="42"/><rect x="208.2" y="697" width="1.3" height="38"/>
    <rect x="201" y="747" width="1" height="37"/><rect x="203.5" y="749" width="1" height="34"/><rect x="206" y="747" width="1" height="37"/>
    <rect x="208.5" y="750" width="1" height="33"/><rect x="211" y="747" width="1" height="37"/><rect x="213.5" y="752" width="1" height="30"/>
  </g>
  <g fill="none" stroke="#aaa" stroke-width="0.9">
    <circle cx="225" cy="737" r="3.3"/><circle cx="225" cy="748" r="2.6"/>
    <path d="M222.5 755 l5 4 m0 -4 l-5 4 M222 766 h6 M223 772 a3 3 0 1 0 0.1 0"/>
  </g>
  <g fill="#c9c9c9"><rect x="220" y="700" width="1.5" height="1.5"/><rect x="220" y="708" width="1.5" height="1.5"/><rect x="220" y="716" width="1.5" height="1.5"/></g>
  <text x="0" y="0" transform="translate(199,784) rotate(-90)" fill="#e0c733" font-size="7" font-weight="bold">AC ADAPTER</text>
<!-- POWER CORD -->
<g id="cord" fill="none" stroke="#2b2b2b" stroke-linecap="round">
  <path d="M171 694 C170 676 152 669 136 677 C120 686 124 716 137 735 C148 752 165 770 165 790 C165 806 148 811 137 805 C125 798 128 780 137 766 C143 757 149 748 152 738" stroke-width="4.5"/>
  <path d="M148 704 C149 722 150 736 150 748" stroke-width="6"/>
  <path d="M166 722 C161 734 156 742 149 749" stroke-width="6"/>
  <path d="M147 712 h4 M147.5 718 h4 M148 724 h4" stroke="#151515" stroke-width="1.2"/>
  <circle cx="147.5" cy="691" r="12.5" fill="#3a3a3a" stroke="#1e1e1e" stroke-width="1.5"/>
  <rect x="145.5" y="681.5" width="4" height="6" fill="#d0d0d0" stroke="none"/>
  <rect x="139" y="688.5" width="4.5" height="4" fill="#c0c0c0" stroke="none"/>
  <rect x="151.5" y="688.5" width="4.5" height="4" fill="#c0c0c0" stroke="none"/>
  <rect x="144" y="697.5" width="7" height="3" fill="#c0c0c0" stroke="none"/>
  <rect x="0" y="0" width="18" height="28" rx="1.5" transform="translate(159.5,691) rotate(14)" fill="#252525" stroke="none"/>
</g>

</svg>
</body>
</html>
